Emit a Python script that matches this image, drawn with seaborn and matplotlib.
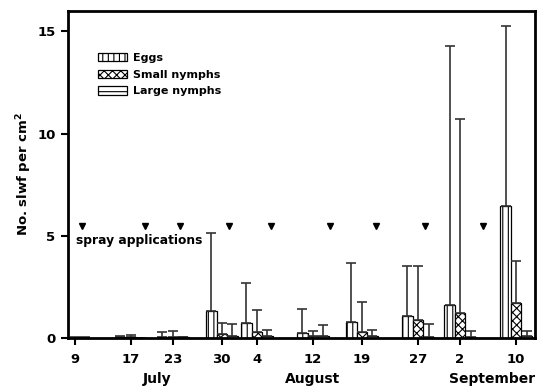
import numpy as np
import pandas as pd
import matplotlib
matplotlib.use("Agg")
import matplotlib.pyplot as plt
from matplotlib.patches import Patch
from matplotlib.transforms import blended_transform_factory
import seaborn as sns

# Sampling dates as days after 9 July
day = [0, 8, 14, 21, 26, 34, 41, 49, 55, 63]
day_labels = ["9", "17", "23", "30", "4", "12", "19", "27", "2", "10"]
stages = ["Eggs", "Small nymphs", "Large nymphs"]

eggs = [0.02, 0.03, 0.03, 1.30, 0.72, 0.25, 0.78, 1.10, 1.60, 6.45]
eggs_upper = [0.05, 0.12, 0.30, 5.15, 2.70, 1.42, 3.66, 3.52, 14.27, 15.27]
small = [0.02, 0.03, 0.05, 0.20, 0.30, 0.10, 0.27, 0.88, 1.20, 1.72]
small_upper = [0.05, 0.17, 0.35, 0.73, 1.37, 0.35, 1.77, 3.52, 10.70, 3.75]
large = [0.02, 0.00, 0.05, 0.10, 0.12, 0.12, 0.10, 0.06, 0.05, 0.08]
large_upper = [0.04, 0.00, 0.05, 0.68, 0.40, 0.65, 0.40, 0.70, 0.35, 0.35]

spray_days = [1, 10, 15, 22, 28, 36.5, 43, 50, 58.3]
spray_level = 5.5

months = ["July", "August", "September"]
month_pos = [11.7, 34.0, 59.6]

sns.set_theme(style="white")
plt.rcParams["font.family"] = ["DejaVu Sans"]
plt.rcParams["font.weight"] = "bold"
plt.rcParams["hatch.linewidth"] = 0.8
for key in ["text.color", "axes.labelcolor", "xtick.color", "ytick.color"]:
    plt.rcParams[key] = "black"

df = pd.DataFrame({
    "day": day * 3,
    "stage": [stages[0]] * len(day) + [stages[1]] * len(day) + [stages[2]] * len(day),
    "value": eggs + small + large,
})
uppers = [eggs_upper, small_upper, large_upper]
means = [eggs, small, large]

fig = plt.figure(figsize=(5.43, 3.90), dpi=100)
ax = fig.add_axes([0.1252, 0.1333, 0.8601, 0.8385])

sns.barplot(data=df, x="day", y="value", hue="stage", hue_order=stages,
            native_scale=True, dodge=True, width=0.9, errorbar=None,
            palette=["white"] * 3, edgecolor="black", linewidth=0.9,
            legend=False, ax=ax)

hatches = ["|||", "xxxx", "---"]
for cont, h, m, u in zip(ax.containers, hatches, means, uppers):
    xs = []
    for p in cont.patches:
        p.set_hatch(h)
        p.set_edgecolor("black")
        p.set_joinstyle("miter")
        xs.append(p.get_x() + p.get_width() / 2)
    order = np.argsort(xs)
    xs = np.array(xs)[order]
    m_arr = np.array(m)
    u_arr = np.array(u)
    yerr = np.vstack([np.zeros_like(m_arr), np.clip(u_arr - m_arr, 0, None)])
    ax.errorbar(xs, m_arr, yerr=yerr, fmt="none", ecolor="#333333",
                elinewidth=1.2, capsize=3.8, capthick=1.2, zorder=1)

ax.plot(spray_days, [spray_level] * len(spray_days), linestyle="none",
        marker="v", color="black", markersize=5)
ax.text(0.2, 4.75, "spray applications", fontsize=8.8, fontweight="bold",
        va="center", ha="left")

ax.set_xlim(-0.95, 65.7)
ax.set_ylim(0, 16)
ax.set_xticks(day)
ax.set_xticklabels(day_labels)
ax.set_yticks([0, 5, 10, 15])
ax.tick_params(axis="both", direction="out", length=5, width=1.5,
               labelsize=9.5, bottom=True, left=True, colors="black")
ax.tick_params(axis="x", pad=5.5)
ax.tick_params(axis="y", pad=4)
for lab in ax.get_xticklabels() + ax.get_yticklabels():
    lab.set_fontweight("bold")
ax.set_xlabel("")
ax.set_ylabel("No. slwf per cm$^\\mathbf{2}$", fontsize=9.5, fontweight="bold",
              labelpad=2, color="black")
for s in ax.spines.values():
    s.set_linewidth(2)
    s.set_color("black")

trans = blended_transform_factory(ax.transData, ax.transAxes)
for mname, mp in zip(months, month_pos):
    ax.text(mp, -0.125, mname, transform=trans, ha="center", va="center",
            fontsize=10, fontweight="bold")

handles = [Patch(facecolor="white", edgecolor="black", hatch=h, linewidth=0.9)
           for h in hatches]
leg = ax.legend(handles, stages, loc="upper left", bbox_to_anchor=(0.055, 0.885),
                frameon=False, prop={"size": 8, "weight": "bold"},
                handlelength=2.6, handleheight=0.75, labelspacing=0.6,
                handletextpad=0.55, borderaxespad=0)

fig.savefig("out.png", dpi=100)
